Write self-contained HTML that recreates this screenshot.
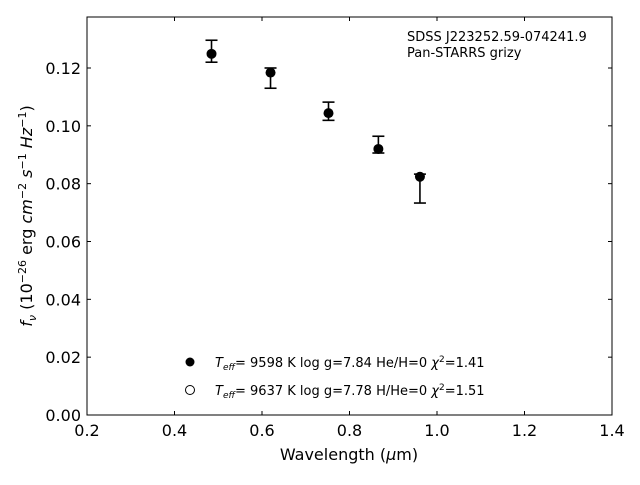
<!DOCTYPE html>
<html><head><meta charset="utf-8"><style>
body{margin:0;background:#fff}
svg text{font-family:"DejaVu Sans","Liberation Sans",sans-serif;fill:#000}
</style></head><body>
<svg id="c" width="640" height="480" viewBox="0 0 640 480">
<rect x="87" y="17" width="525" height="398" fill="none" stroke="#000" stroke-width="1"/>
<g id="ticks"></g>
<g id="marks"></g>
<text x="349" y="460" font-size="16" text-anchor="middle">Wavelength (<tspan font-style="italic">μ</tspan>m)</text>
<text transform="translate(32,216) rotate(-90)" font-size="16" text-anchor="middle"><tspan font-style="italic">f</tspan><tspan font-style="italic" font-size="11" dy="4">ν</tspan><tspan dy="-4"> (10</tspan><tspan font-size="11" dy="-6">−26</tspan><tspan dy="6"> erg </tspan><tspan font-style="italic">cm</tspan><tspan font-size="11" dy="-6">−2</tspan><tspan dy="6" font-style="italic"> s</tspan><tspan font-size="11" dy="-6">−1</tspan><tspan dy="6" font-style="italic"> Hz</tspan><tspan font-size="11" dy="-6">−1</tspan><tspan dy="6">)</tspan></text>
<text x="407" y="41" font-size="13">SDSS J223252.59-074241.9</text>
<text x="407" y="57" font-size="13">Pan-STARRS grizy</text>
<g>
<circle cx="190" cy="362" r="4.5" fill="#000"/>
<text x="215" y="367" font-size="13"><tspan font-style="italic">T</tspan><tspan font-style="italic" font-size="9" dy="3">eff</tspan><tspan dy="-3">=  9598 K  log g=7.84  He/H=0  </tspan><tspan font-style="italic">χ</tspan><tspan font-size="9" dy="-5">2</tspan><tspan dy="5">=1.41</tspan></text>
<circle cx="190" cy="390" r="4.5" fill="#fff" stroke="#000" stroke-width="1"/>
<text x="215" y="395" font-size="13"><tspan font-style="italic">T</tspan><tspan font-style="italic" font-size="9" dy="3">eff</tspan><tspan dy="-3">=  9637 K  log g=7.78  H/He=0  </tspan><tspan font-style="italic">χ</tspan><tspan font-size="9" dy="-5">2</tspan><tspan dy="5">=1.51</tspan></text>
</g>
</svg>
<script>
const wavelengths=[0.4846,0.6195,0.752,0.866,0.961];
const modelFlux=[0.1249,0.1184,0.1044,0.0920,0.0824];
const errHigh=[0.1296,0.1200,0.1082,0.0964,0.0833];
const errLow=[0.1220,0.1130,0.1019,0.0906,0.0733];
const xTicks=["0.2","0.4","0.6","0.8","1.0","1.2","1.4"];
const yTicks=["0.00","0.02","0.04","0.06","0.08","0.10","0.12"];
const NS="http://www.w3.org/2000/svg";
const X0=87,X1=612,Y0=415,Y1=17;
const xs=v=>X0+(v-0.2)/(1.2)*(X1-X0);
const ys=v=>Y0-v*2891.7;
function mk(t,a,p){const e=document.createElementNS(NS,t);for(const k in a)e.setAttribute(k,a[k]);p.appendChild(e);return e;}
const tg=document.getElementById('ticks'),mg=document.getElementById('marks');
xTicks.forEach(l=>{const x=xs(parseFloat(l));
const t1=mk('line',{x1:x,x2:x,y1:Y0,y2:Y0-4,stroke:'#000'},tg);


mk('line',{x1:x,x2:x,y1:Y1,y2:Y1+4,stroke:'#000'},tg);
const tx=mk('text',{x:x,y:Y0+21,'font-size':16,'text-anchor':'middle'},tg);tx.textContent=l;

});
yTicks.forEach(l=>{const y=ys(parseFloat(l));
const t1=mk('line',{x1:X0,x2:X0+4,y1:y,y2:y,stroke:'#000'},tg);


mk('line',{x1:X1,x2:X1-4,y1:y,y2:y,stroke:'#000'},tg);
const tx=mk('text',{x:X0-6,y:y+6,'font-size':16,'text-anchor':'end'},tg);tx.textContent=l;

});
wavelengths.forEach((w,i)=>{const x=xs(w);
const g=mk('g',{},mg);


mk('line',{x1:x,x2:x,y1:ys(errHigh[i]),y2:ys(errLow[i]),stroke:'#000','stroke-width':1.6},g);
mk('line',{x1:x-6,x2:x+6,y1:ys(errHigh[i]),y2:ys(errHigh[i]),stroke:'#000','stroke-width':1.6},g);
mk('line',{x1:x-6,x2:x+6,y1:ys(errLow[i]),y2:ys(errLow[i]),stroke:'#000','stroke-width':1.6},g);
const c=mk('circle',{cx:x,cy:ys(modelFlux[i]),r:5,fill:'#000'},mg);

});
</script>
</body></html>
